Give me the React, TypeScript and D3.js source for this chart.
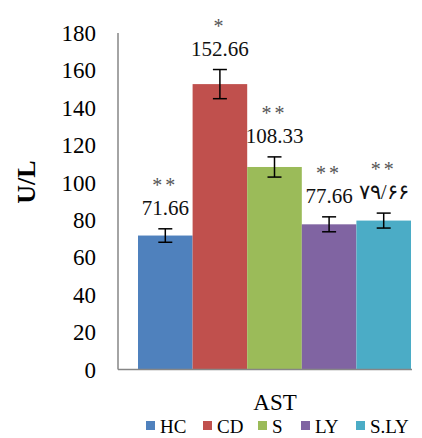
import React from "react";
import * as d3 from "d3";

const categories = ["HC", "CD", "S", "LY", "S.LY"];
const values = [71.66, 152.66, 108.33, 77.66, 79.66];
const errors = [3.6, 7.8, 5.4, 4, 4];
const valueLabels = ["71.66", "152.66", "108.33", "77.66", "۷۹/۶۶"];
const stars = ["**", "*", "**", "**", "**"];
const colors = ["#4F81BD", "#C0504D", "#9BBB59", "#8064A2", "#4BACC6"];
const yTicks = [0, 20, 40, 60, 80, 100, 120, 140, 160, 180];
const groupLabel = "AST";
const yTitle = "U/L";

export default function App() {
  const W = 422, H = 438;
  const left = 118, right = 411, top = 33, bottom = 369.5;
  const y = d3.scaleLinear().domain([0, 180]).range([bottom, top]);
  const x = d3.scaleBand().domain(categories).range([138, right]).padding(0);
  const font = "Liberation Serif, Tinos, DejaVu Serif, Times New Roman, serif";
  const legendX = [146, 203, 258, 301, 356];
  return (
    <div style={{ position: "absolute", left: 0, top: 0 }}>
      <svg width={W} height={H} style={{ display: "block", fontFamily: font }}>
        <rect width={W} height={H} fill="#fff" />
        {yTicks.map((t) => (
          <text key={t} x={96} y={y(t)} dy="0.35em" textAnchor="end" fontSize={23} fill="#000">
            {t}
          </text>
        ))}
        <text transform={`translate(35,182) rotate(-90)`} textAnchor="middle" fontSize={26} fontWeight="bold">
          {yTitle}
        </text>
        {categories.map((c, i) => {
          const bx = x(c)!;
          const bw = x.bandwidth();
          const cx = bx + bw / 2;
          const eTop = y(values[i] + errors[i]);
          const eBot = y(values[i] - errors[i]);
          return (
            <g key={c}>
              <rect x={bx} y={y(values[i])} width={bw} height={bottom - y(values[i])} fill={colors[i]} />
              <line x1={cx} x2={cx} y1={eTop} y2={eBot} stroke="#000" strokeWidth={1.5} />
              <line x1={cx - 7} x2={cx + 7} y1={eTop} y2={eTop} stroke="#000" strokeWidth={1.5} />
              <line x1={cx - 7} x2={cx + 7} y1={eBot} y2={eBot} stroke="#000" strokeWidth={1.5} />
              <text x={cx} y={eTop - 21} dy="0.35em" textAnchor="middle" fontSize={21} fill="#111">
                {valueLabels[i]}
              </text>
              <text x={cx} y={eTop - 49} dy="0.6em" textAnchor="middle" fontSize={20} fill="#555" letterSpacing={3}>
                {stars[i]}
              </text>
            </g>
          );
        })}
        <line x1={left} x2={left} y1={top} y2={bottom} stroke="#868686" strokeWidth={1.5} />
        <line x1={left} x2={412} y1={bottom} y2={bottom} stroke="#868686" strokeWidth={1.5} />
        <text x={275} y={402} dy="0.35em" textAnchor="middle" fontSize={23}>
          {groupLabel}
        </text>
        {categories.map((c, i) => (
          <g key={"l" + c}>
            <rect x={legendX[i]} y={421} width={9} height={9} fill={colors[i]} />
            <text x={legendX[i] + 14} y={426} dy="0.35em" fontSize={19}>
              {c}
            </text>
          </g>
        ))}
      </svg>
    </div>
  );
}
